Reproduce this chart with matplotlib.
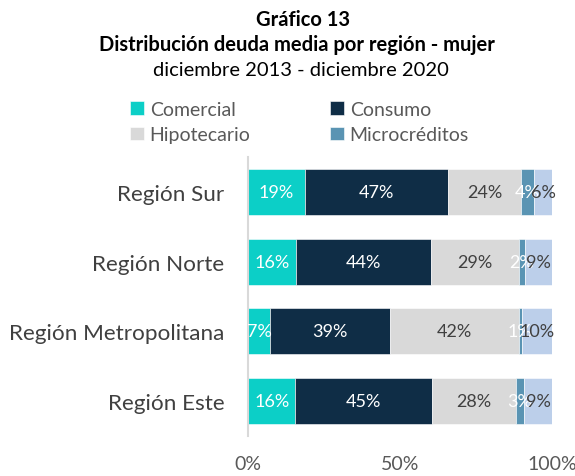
import matplotlib.pyplot as plt
import numpy as np

plt.rcParams['font.family'] = ['Lato', 'DejaVu Sans']

regions = ["Región Sur", "Región Norte", "Región Metropolitana", "Región Este"]
series = ["Comercial", "Consumo", "Hipotecario", "Microcréditos", "Otros"]
comercial = [18.6, 15.8, 7.2, 15.6]
consumo = [47.2, 44.4, 39.4, 45.0]
hipotecario = [24.0, 28.9, 42.4, 27.6]
microcreditos = [4.3, 2.0, 1.1, 2.6]
otros = [5.9, 8.9, 9.9, 9.2]
labels = [
    ["19%", "16%", "7%", "16%"],
    ["47%", "44%", "39%", "45%"],
    ["24%", "29%", "42%", "28%"],
    ["4%", "2%", "1%", "3%"],
    ["6%", "9%", "10%", "9%"],
]

colors = ["#0ccfc7", "#0f2d46", "#d9d9d9", "#5a94b3", "#bccfea"]
text_colors = ["white", "white", "#404040", "white", "#404040"]

fig = plt.figure(figsize=(5.75, 4.77), dpi=100)
ax = fig.add_axes([248 / 575, 1 - 437 / 477, 304 / 575, 279 / 477])

y = np.arange(len(regions))
left = np.zeros(len(regions))
handles = []
for vals, col, tc, labs, name in zip(
        [comercial, consumo, hipotecario, microcreditos, otros],
        colors, text_colors, labels, series):
    vals = np.array(vals)
    bars = ax.barh(y, vals, left=left, height=0.66, color=col,
                   edgecolor="white", linewidth=0.4)
    handles.append(bars)
    for yi, l, v, t in zip(y, left, vals, labs):
        ax.text(l + v / 2, yi, t, ha="center", va="center",
                color=tc, fontsize=13)
    left += vals

ax.set_xlim(0, 100)
ax.set_ylim(len(regions) - 0.5, -0.5)
ax.set_yticks(y)
ax.set_yticklabels(regions, fontsize=16.2, color="#404040")
ax.set_xticks([0, 50, 100])
ax.set_xticklabels(["0%", "50%", "100%"], fontsize=14, color="#595959")
ax.tick_params(length=0)
ax.tick_params(axis="x", pad=14)
ax.tick_params(axis="y", pad=17)
for s in ["top", "right", "bottom"]:
    ax.spines[s].set_visible(False)
ax.spines["left"].set_color("#d9d9d9")
ax.spines["left"].set_linewidth(1.5)

fig.text(0.527, 0.958, "Gráfico 13", ha="center", va="center",
         fontsize=14.5, fontweight="bold", color="black")
fig.text(0.517, 0.905, "Distribución deuda media por región - mujer",
         ha="center", va="center", fontsize=14.5, fontweight="bold", color="black")
fig.text(0.523, 0.853, "diciembre 2013 - diciembre 2020", ha="center",
         va="center", fontsize=14.5, color="black")

order = [0, 2, 1, 3]
leg = fig.legend([handles[i] for i in order], [series[i] for i in order],
                 ncol=2, loc="upper left", bbox_to_anchor=(0.213, 0.803),
                 frameon=False, fontsize=14, handlelength=0.7,
                 handleheight=0.7, handletextpad=0.3, columnspacing=4.1,
                 labelspacing=0.45, borderaxespad=0)
for t in leg.get_texts():
    t.set_color("#595959")

fig.savefig("out.png", dpi=100)
